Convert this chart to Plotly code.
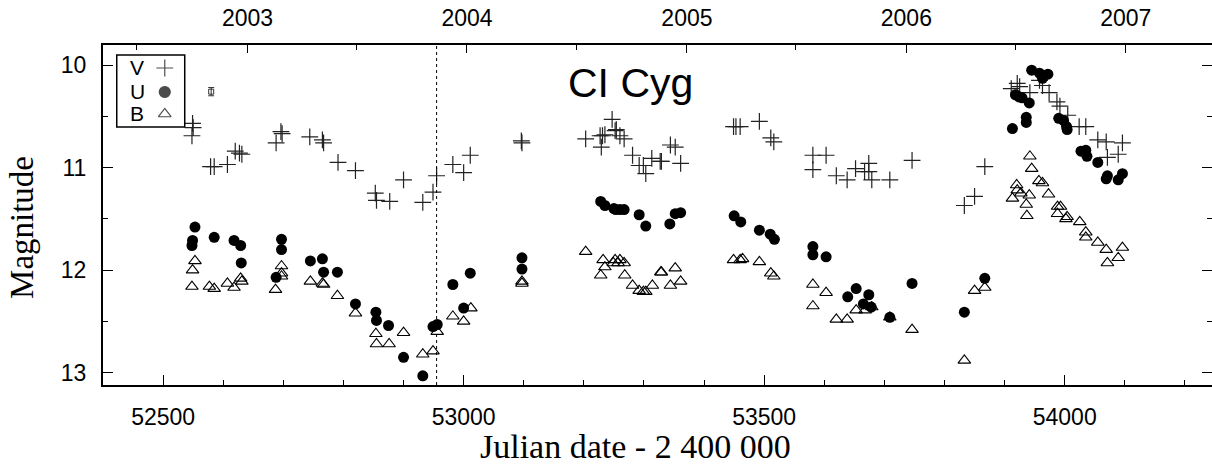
import plotly.graph_objects as go

# ---------------- data (JD - 2400000, magnitude) ----------------
v_jd = [52549, 52550, 52548, 52579, 52585, 52607, 52620, 52627, 52631, 52688, 52696, 52698,
        52744, 52765, 52767, 52791, 52820, 52853, 52855, 52877, 52900, 52932, 52949, 52955,
        52982, 53000, 53011, 53096, 53097, 53203, 53227, 53229, 53231, 53235, 53247, 53254,
        53252, 53260, 53267, 53281, 53292, 53299, 53303, 53313, 53327, 53329, 53344, 53352,
        53361, 53449, 53453, 53460, 53492, 53511, 53516, 53581, 53603, 53581, 53620, 53638,
        53652, 53667, 53674, 53674, 53679, 53709, 53746, 53833, 53850, 53867,
        53911, 53921, 53925, 53942, 53958, 53963, 53974, 53987, 53992, 54005, 54024, 54035,
        54055, 54069, 54096, 54071, 54089]
v_mag = [10.57, 10.61, 10.69, 10.99, 10.99, 10.97, 10.84, 10.86, 10.87, 10.76, 10.65, 10.67,
         10.70, 10.73, 10.76, 10.95, 11.03, 11.25, 11.32, 11.33, 11.12, 11.34, 11.24, 11.08,
         10.97, 11.05, 10.88, 10.74, 10.76, 10.72, 10.69, 10.80, 10.69, 10.68, 10.53, 10.63,
         10.64, 10.69, 10.72, 10.88, 10.98, 10.98, 11.06, 10.91, 10.94, 10.94, 10.78, 10.80,
         10.96, 10.60, 10.60, 10.60, 10.55, 10.71, 10.75, 10.88, 10.88, 11.02, 11.08, 11.12,
         11.01, 11.04, 10.96, 11.04, 11.12, 11.12, 10.93, 11.37, 11.28, 10.99,
         10.23, 10.18, 10.21, 10.27, 10.15, 10.20, 10.27, 10.36, 10.40, 10.49, 10.60, 10.60,
         10.73, 10.75, 10.76, 10.90, 10.87]

u_jd = [52553, 52549, 52548, 52585, 52618, 52629, 52630, 52688, 52697, 52697, 52745, 52765,
        52767, 52790, 52820, 52854, 52855, 52875, 52900, 52932, 52949, 52956, 52982, 53000,
        53011, 53097, 53097, 53228, 53235, 53250, 53253, 53260, 53267, 53292, 53303, 53343,
        53352, 53361, 53450, 53461, 53492, 53510, 53517, 53581, 53581, 53603, 53639, 53653,
        53674, 53665, 53678, 53709, 53746, 53833, 53867,
        53913, 53918, 53924, 53929, 53941, 53936, 53936, 53945, 53958, 53963, 53972,
        53990, 53998, 54003, 54004, 54027, 54035, 54037, 54055, 54069, 54071, 54089, 54096]
u_mag = [11.58, 11.71, 11.76, 11.68, 11.71, 11.76, 11.93, 12.07, 11.70, 11.80, 11.91, 11.89,
         12.02, 12.02, 12.33, 12.41, 12.49, 12.54, 12.85, 13.03, 12.55, 12.53, 12.14, 12.37,
         12.03, 11.88, 11.99, 11.33, 11.37, 11.40, 11.41, 11.41, 11.41, 11.46, 11.57, 11.55,
         11.45, 11.44, 11.47, 11.53, 11.61, 11.65, 11.70, 11.77, 11.85, 11.87, 12.26, 12.18,
         12.24, 12.33, 12.36, 12.46, 12.13, 12.41, 12.08,
         10.62, 10.29, 10.31, 10.32, 10.37, 10.51, 10.56, 10.05, 10.08, 10.13, 10.09,
         10.52, 10.54, 10.60, 10.63, 10.84, 10.83, 10.89, 10.95, 11.11, 11.08, 11.12, 11.06]

b_jd = [52553, 52549, 52548, 52577, 52585, 52607, 52618, 52629, 52631, 52687, 52697, 52697,
        52697, 52745, 52765, 52767, 52790, 52820, 52854, 52855, 52876, 52900, 52932, 52949,
        52956, 52982, 53000, 53012, 53097, 53097, 53203, 53228, 53232, 53235, 53249, 53252,
        53257, 53260, 53267, 53268, 53281, 53292, 53299, 53303, 53314, 53328, 53329, 53344,
        53352, 53361, 53449, 53460, 53464, 53492, 53511, 53516, 53581, 53581, 53603, 53620,
        53638, 53653, 53668, 53679, 53709, 53746, 53833, 53850, 53867,
        53942, 53945, 53920, 53913, 53927, 53941, 53936, 53937, 53921, 53957, 53963, 53973,
        53988, 53993, 53988, 54002, 54004, 54025, 54035, 54035, 54055, 54069, 54071, 54089,
        54096]
b_mag = [11.91, 12.00, 12.16, 12.16, 12.18, 12.13, 12.17, 12.08, 12.11, 12.19, 11.96, 12.03,
         12.06, 12.11, 12.13, 12.14, 12.25, 12.42, 12.62, 12.72, 12.72, 12.61, 12.82, 12.79,
         12.60, 12.45, 12.50, 12.37, 12.11, 12.13, 11.82, 12.05, 11.90, 11.97, 11.93, 11.90,
         11.93, 11.90, 11.93, 12.05, 12.15, 12.20, 12.21, 12.21, 12.15, 12.02, 12.02, 12.15,
         11.98, 12.11, 11.90, 11.90, 11.89, 11.92, 12.03, 12.06, 12.14, 12.35, 12.22, 12.48,
         12.48, 12.39, 12.39, 12.36, 12.46, 12.58, 12.88, 12.20, 12.17,
         10.89, 11.01, 11.17, 11.30, 11.25, 11.27, 11.36, 11.47, 11.22, 11.13, 11.15, 11.26,
         11.38, 11.38, 11.45, 11.50, 11.48, 11.53, 11.63, 11.68, 11.73, 11.80, 11.93, 11.88,
         11.78]

# typical error bar
err_jd = [52580]
err_mag = [10.26]
err_size = [0.04]

# vertical dotted marker date
mark_jd = 52955

# top axis: calendar years (start of year in JD - 2400000)
year_jd = [52640.5, 53005.5, 53371.5, 53736.5, 54101.5]
year_labels = ["2003", "2004", "2005", "2006", "2007"]
halfyear_jd = [52456.5, 52821.5, 53187.5, 53552.5, 53917.5]

legend_names = ["V", "U", "B"]

x_range = [52400, 54245]
y_range = [13.12, 9.805]

INK = "#000000"
CROSS = "#222222"
SANS = "Liberation Sans, Arial, sans-serif"
SERIF = "Liberation Serif, Times New Roman, serif"

fig = go.Figure()

fig.add_trace(go.Scatter(x=v_jd, y=v_mag, mode="markers", name="V",
                         marker=dict(symbol="cross-thin-open", size=12, color=CROSS,
                                     line=dict(color=CROSS, width=1.2))))
fig.add_trace(go.Scatter(x=u_jd, y=u_mag, mode="markers", name="U",
                         marker=dict(symbol="circle", size=11, color=INK,
                                     line=dict(width=0))))
fig.add_trace(go.Scatter(x=b_jd, y=b_mag, mode="markers", name="B",
                         marker=dict(symbol="triangle-up-open", size=11, color=INK,
                                     line=dict(color=INK, width=1.1))))
fig.add_trace(go.Scatter(x=err_jd, y=err_mag, mode="markers", showlegend=False,
                         marker=dict(symbol="square-open", size=5, color="#333",
                                     line=dict(color="#333", width=1)),
                         error_y=dict(type="data", array=err_size, color="#333",
                                      thickness=1, width=3)))
# invisible trace for top axis
fig.add_trace(go.Scatter(x=x_range, y=[11.5, 11.5], xaxis="x2", mode="markers",
                         marker=dict(opacity=0), showlegend=False, hoverinfo="skip"))

# custom legend (text left, symbol right) on a paper-like overlay axis
leg_x_text = 0.031
leg_x_sym = 0.0557
leg_rows = [0.9324, 0.8618, 0.7971]
leg_symbols = ["cross-thin-open", "circle", "triangle-up-open"]
fig.add_trace(go.Scatter(x=[leg_x_sym] * 3, y=leg_rows, xaxis="x3", yaxis="y3",
                         mode="markers", showlegend=False, hoverinfo="skip",
                         marker=dict(symbol=leg_symbols, size=[12, 11, 11],
                                     color=INK, line=dict(color=INK, width=1.2))))
for name, yy in zip(legend_names, leg_rows):
    fig.add_annotation(x=leg_x_text, y=yy, xref="paper", yref="paper", text=name,
                       showarrow=False, font=dict(family=SANS, size=21, color=INK),
                       xanchor="center", yanchor="middle")
fig.add_shape(type="rect", xref="paper", yref="paper", x0=0.0124, x1=0.0737,
              y0=0.7588, y1=0.9706, line=dict(color=INK, width=1.5))

fig.add_shape(type="line", xref="x", yref="paper", x0=mark_jd, x1=mark_jd, y0=0, y1=1,
              line=dict(color=INK, width=1, dash="dot"))

fig.add_annotation(x=53278, y=10.18, xref="x", yref="y", text="CI Cyg", showarrow=False,
                   font=dict(family=SANS, size=41, color=INK), xanchor="center",
                   yanchor="middle")

fig.add_annotation(x=-0.073, y=0.462, xref="paper", yref="paper", text="Magnitude",
                   textangle=-90, showarrow=False, xanchor="center", yanchor="middle",
                   font=dict(family=SERIF, size=33, color=INK))
fig.add_annotation(x=0.48, y=-0.18, xref="paper", yref="paper",
                   text="Julian date - 2 400 000", showarrow=False,
                   xanchor="center", yanchor="middle",
                   font=dict(family=SERIF, size=34, color=INK))

fig.update_layout(
    width=1212, height=469,
    margin=dict(l=103, r=0, t=45, b=84, pad=0),
    paper_bgcolor="white", plot_bgcolor="rgba(0,0,0,0)",
    showlegend=False,
    xaxis=dict(range=x_range, domain=[0, 1], tickmode="linear", tick0=52500, dtick=500,
               tickformat="d", automargin=False,
               ticks="inside", ticklen=10, tickwidth=1.2, tickcolor=INK,
               minor=dict(dtick=100, tick0=52400, ticks="inside", ticklen=5, tickcolor=INK,
                          tickwidth=1),
               showgrid=False, zeroline=False, showline=True, linecolor=INK, linewidth=2,
               mirror=False, tickfont=dict(family=SANS, size=23, color=INK),
               ticklabelstandoff=10),
    xaxis2=dict(range=x_range, overlaying="x", side="top", tickmode="array",
                tickvals=year_jd, ticktext=year_labels, ticks="inside", ticklen=8,
                tickwidth=1.2, tickcolor=INK, automargin=False,
                minor=dict(tickvals=halfyear_jd, ticks="inside", ticklen=5, tickcolor=INK),
                showgrid=False, zeroline=False, showline=True, linecolor=INK, linewidth=2,
                tickfont=dict(family=SANS, size=23, color=INK), ticklabelstandoff=8),
    yaxis=dict(range=y_range, tickmode="linear", tick0=10, dtick=1, ticks="inside",
               ticklen=10, tickwidth=1.2, tickcolor=INK, automargin=False,
               minor=dict(dtick=0.5, ticks="inside", ticklen=5, tickcolor=INK),
               showgrid=False, zeroline=False, showline=True, linecolor=INK, linewidth=2,
               mirror="ticks", tickfont=dict(family=SANS, size=23, color=INK),
               ticklabelstandoff=10),
    xaxis3=dict(domain=[0, 1], range=[0, 1], visible=False, anchor="y3", automargin=False),
    yaxis3=dict(domain=[0, 1], range=[0, 1], visible=False, anchor="x3", automargin=False),
)

fig.write_html("out.html", config={"displayModeBar": False},
               post_script="document.body.style.margin='0';document.body.style.overflow='hidden';")
